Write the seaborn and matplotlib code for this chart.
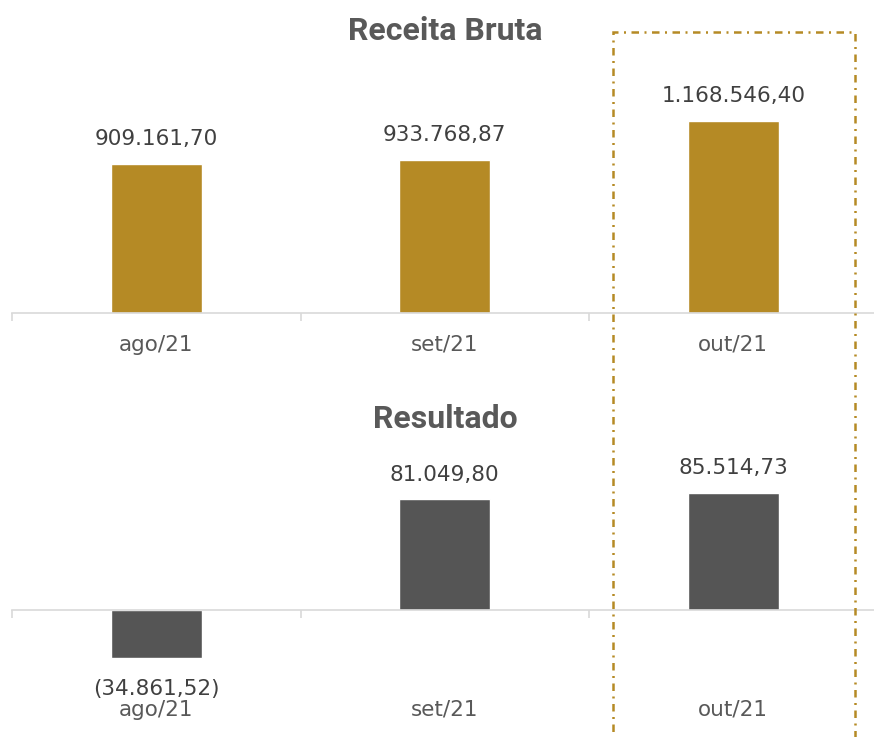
import matplotlib
matplotlib.use("Agg")
import matplotlib.pyplot as plt
import matplotlib.transforms as mtransforms
from matplotlib.patches import Rectangle
import seaborn as sns
import pandas as pd

months = ["ago/21", "set/21", "out/21"]
receita = [909161.70, 933768.87, 1168546.40]
resultado = [-34861.52, 81049.80, 85514.73]

GOLD = "#B58A25"
DARK = "#555555"
AXIS = "#D9D9D9"
TXT = "#404040"
TICK = "#595959"

sns.set_theme(style="white")
plt.rcParams['font.family'] = ['DejaVu Sans']


def fmt(v):
    s = f"{abs(v):,.2f}".replace(",", "X").replace(".", ",").replace("X", ".")
    return f"({s})" if v < 0 else s


W, H = 874, 737
fig = plt.figure(figsize=(W / 100, H / 100), dpi=100)

# axes positions in pixel terms
x0, x1 = 12, 877.5
ax1 = fig.add_axes([x0 / W, (H - 313) / H, (x1 - x0) / W, 253 / H])
ax2 = fig.add_axes([x0 / W, (H - 690) / H, (x1 - x0) / W, 240 / H])

df1 = pd.DataFrame({"mes": months, "valor": receita})
df2 = pd.DataFrame({"mes": months, "valor": resultado})

sns.barplot(data=df1, x="mes", y="valor", color=GOLD, saturation=1, width=0.315, ax=ax1)
sns.barplot(data=df2, x="mes", y="valor", color=DARK, saturation=1, width=0.315, ax=ax2)

ax1.set_ylim(0, 1168546.40 * 253 / 192)
scale2 = 117 / 85514.73
ax2.set_ylim(-80 / scale2, 160 / scale2)

for ax in (ax1, ax2):
    ax.set_xlim(-0.5, 2.5)
    ax.set_xlabel("")
    ax.set_ylabel("")
    ax.set_yticks([])
    for s in ("left", "top", "right"):
        ax.spines[s].set_visible(False)
    ax.spines["bottom"].set_color(AXIS)
    ax.spines["bottom"].set_linewidth(1.2)
    ax.set_xticks([-0.5, 0.5, 1.5, 2.5], minor=True)
    ax.tick_params(axis="x", which="minor", length=5.5, width=1.2, color=AXIS, direction="out", bottom=True)
    ax.tick_params(axis="x", which="major", length=0, labelsize=15.5, labelcolor=TICK)
    ax.patch.set_alpha(0)

ax1.tick_params(axis="x", which="major", pad=15.5)
ax2.spines["bottom"].set_position(("data", 0))
ax2.tick_params(axis="x", which="major", pad=64.5)

# value labels
ax1.bar_label(ax1.containers[0], labels=[fmt(v) for v in receita], padding=10.5,
              fontsize=15.5, color=TXT)
ax2.bar_label(ax2.containers[0], labels=[fmt(v) if v >= 0 else "" for v in resultado],
              padding=10.5, fontsize=15.5, color=TXT)
ax2.bar_label(ax2.containers[0], labels=[fmt(v) if v < 0 else "" for v in resultado],
              padding=15.5, fontsize=15.5, color=TXT)

# titles
fig.text(445 / W, 1 - 31 / H, "Receita Bruta", ha="center", va="center",
         fontsize=23, fontweight="bold", color="#595959", family=["Roboto", "DejaVu Sans"])
fig.text(445 / W, 1 - 419 / H, "Resultado", ha="center", va="center",
         fontsize=23, fontweight="bold", color="#595959", family=["Roboto", "DejaVu Sans"])

# highlight box around last month
trans = mtransforms.blended_transform_factory(ax1.transData, fig.transFigure)
rect = Rectangle((2 - 0.416, -0.05), 0.839, (1 - 32 / H) + 0.05, transform=trans,
                 fill=False, edgecolor=GOLD, linewidth=1.8,
                 linestyle=(0, (3, 2.2, 0.8, 2.2)), clip_on=False)
fig.add_artist(rect)

fig.savefig("out.png", dpi=100)
